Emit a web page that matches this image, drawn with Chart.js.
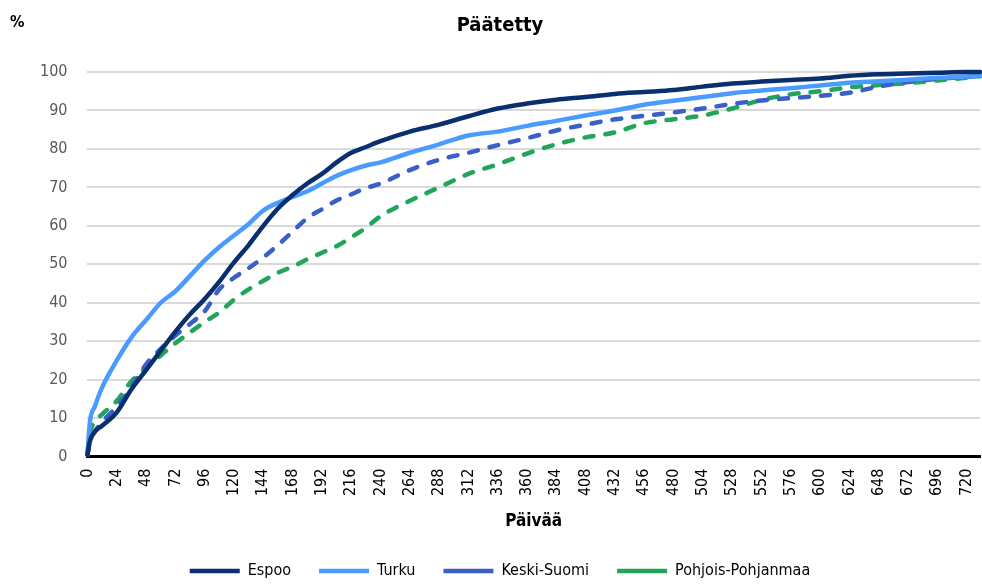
<!DOCTYPE html>
<html lang="fi">
<head>
<meta charset="UTF-8">
<title>Päätetty</title>
<script src="https://cdn.jsdelivr.net/npm/chart.js"></script>
<style>
  html, body { margin: 0; padding: 0; background: #fff; }
  .wrap { width: 982px; height: 585px; }
</style>
</head>
<body>
<div class="wrap"><canvas id="chart"></canvas></div>
<script>
// päivät (x) ja kumulatiiviset osuudet (%)
const days = [0, 2, 6, 12, 24, 36, 48, 60, 72, 84, 96, 108, 120, 132, 144, 156, 168, 180, 192, 204, 216, 228, 240,
  264, 288, 312, 336, 360, 384, 408, 432, 456, 480, 504, 528, 552, 576, 600, 624, 648, 672, 696, 720, 731];

const espoo = [0.5, 4, 6.5, 8, 11.5, 17.5, 22.5, 27.5, 32.5, 37, 41, 45.5, 50.5, 55, 60, 64.5, 68, 71, 73.5, 76.5, 79, 80.5, 82,
  84.5, 86.3, 88.5, 90.5, 91.8, 92.8, 93.5, 94.3, 94.8, 95.3, 96.2, 97, 97.5, 97.9, 98.3, 99, 99.4, 99.6, 99.8, 100, 100];

const turku = [0.5, 9, 13, 18, 25, 31, 35.5, 40, 43, 47, 51, 54.5, 57.5, 60.5, 64, 66, 67.5, 69, 71, 73, 74.5, 75.7, 76.5,
  79, 81.2, 83.5, 84.5, 86, 87.3, 88.7, 90, 91.5, 92.5, 93.5, 94.5, 95.2, 95.8, 96.5, 97.2, 97.6, 98, 98.5, 98.8, 99];

const keskiSuomi = [0.5, 4, 6.5, 9, 13, 18, 24, 28, 31.5, 34.5, 37.8, 43.5, 46.5, 49, 51.8, 55, 58.5, 62, 64.3, 66.6, 68.2, 69.8, 71,
  74.5, 77.2, 79, 81, 82.8, 84.8, 86.3, 87.7, 88.6, 89.5, 90.5, 91.7, 92.6, 93.2, 93.8, 94.6, 96.2, 97.4, 98.2, 98.7, 99];

const pohjoisPohjanmaa = [0.5, 6, 9, 11, 14.5, 19.6, 23, 26.3, 29.5, 32.3, 35, 37.5, 40.8, 43.5, 45.7, 47.8, 49.4, 51.3, 53, 54.7, 57, 59.5, 62.5,
  66.5, 70, 73.5, 76, 78.8, 81.2, 83, 84.3, 86.7, 87.7, 88.7, 90.5, 92.7, 94.2, 95, 96, 96.6, 97.1, 97.8, 98.5, 98.9];

const seriesNames = ['Espoo', 'Turku', 'Keski-Suomi', 'Pohjois-Pohjanmaa'];
const xTickStep = 24;

const FONT = '"DejaVu Sans Condensed", "DejaVu Sans", sans-serif';
const X_LABEL_SPACE = 38;

function toPoints(values) {
  return days.map((d, i) => ({ x: d, y: values[i] }));
}

// "%" vasempaan yläkulmaan
const percentLabel = {
  id: 'percentLabel',
  afterDraw(chart) {
    const ctx = chart.ctx;
    ctx.save();
    ctx.font = 'bold 16px ' + FONT;
    ctx.fillStyle = '#000';
    ctx.textBaseline = 'middle';
    ctx.fillText('%', 10, 23);
    ctx.restore();
  }
};

// x-akselin pystyyn käännetyt päivämerkinnät skaalan omista tickeistä
const xTickLabels = {
  id: 'xTickLabels',
  afterDraw(chart) {
    const scale = chart.scales.x;
    const ctx = chart.ctx;
    ctx.save();
    ctx.font = '16px ' + FONT;
    ctx.fillStyle = '#000';
    ctx.textAlign = 'right';
    ctx.textBaseline = 'middle';
    scale.ticks.forEach(t => {
      const x = scale.getPixelForValue(t.value);
      ctx.save();
      ctx.translate(x, scale.top + 12);
      ctx.rotate(-Math.PI / 2);
      ctx.fillText(String(t.value), 0, 0);
      ctx.restore();
    });
    ctx.restore();
  }
};

const common = { fill: false, pointRadius: 0, borderWidth: 4.5, cubicInterpolationMode: 'monotone', borderCapStyle: 'round', borderJoinStyle: 'round' };

new Chart(document.getElementById('chart'), {
  type: 'line',
  data: {
    datasets: [
      Object.assign({ label: seriesNames[0], data: toPoints(espoo), borderColor: '#0a2f6e', backgroundColor: '#0a2f6e' }, common),
      Object.assign({ label: seriesNames[1], data: toPoints(turku), borderColor: '#4a9bff', backgroundColor: '#4a9bff' }, common),
      Object.assign({ label: seriesNames[2], data: toPoints(keskiSuomi), borderColor: '#3a5fc6', backgroundColor: '#3a5fc6', borderDash: [9, 12] }, common),
      Object.assign({ label: seriesNames[3], data: toPoints(pohjoisPohjanmaa), borderColor: '#22a55a', backgroundColor: '#22a55a', borderDash: [9, 12] }, common)
    ]
  },
  options: {
    responsive: true,
    maintainAspectRatio: false,
    animation: false,
    clip: false,
    layout: { padding: { left: 20, right: 2, top: 0, bottom: -4 } },
    plugins: {
      title: {
        display: true,
        text: 'Päätetty',
        color: '#000',
        font: { family: FONT, size: 20, weight: 'bold' },
        padding: { top: 14, bottom: 34 }
      },
      legend: {
        position: 'bottom',
        labels: {
          usePointStyle: true,
          pointStyle: 'line',
          pointStyleWidth: 50,
          color: '#000',
          padding: 28,
          font: { family: FONT, size: 16 }
        }
      },
      tooltip: { enabled: false }
    },
    scales: {
      x: {
        type: 'linear',
        min: 0,
        max: 731,
        afterBuildTicks(scale) {
          scale.ticks = scale.ticks.filter(t => t.value % xTickStep === 0);
        },
        afterFit(scale) {
          scale.height += X_LABEL_SPACE;
          scale.paddingRight = 0;
        },
        ticks: {
          stepSize: xTickStep,
          includeBounds: false,
          display: false
        },
        grid: { display: false, drawTicks: false },
        border: { display: true, color: '#000', width: 3 },
        title: {
          display: true,
          text: 'Päivää',
          color: '#000',
          font: { family: FONT, size: 17, weight: 'bold' },
          padding: { top: 17, bottom: 3 }
        }
      },
      y: {
        min: 0,
        max: 100,
        ticks: {
          stepSize: 10,
          color: '#595959',
          padding: 20,
          font: { family: FONT, size: 16 }
        },
        grid: { color: '#d9d9d9', lineWidth: 2, drawTicks: false },
        border: { display: false }
      }
    }
  },
  plugins: [percentLabel, xTickLabels]
});
</script>
</body>
</html>
